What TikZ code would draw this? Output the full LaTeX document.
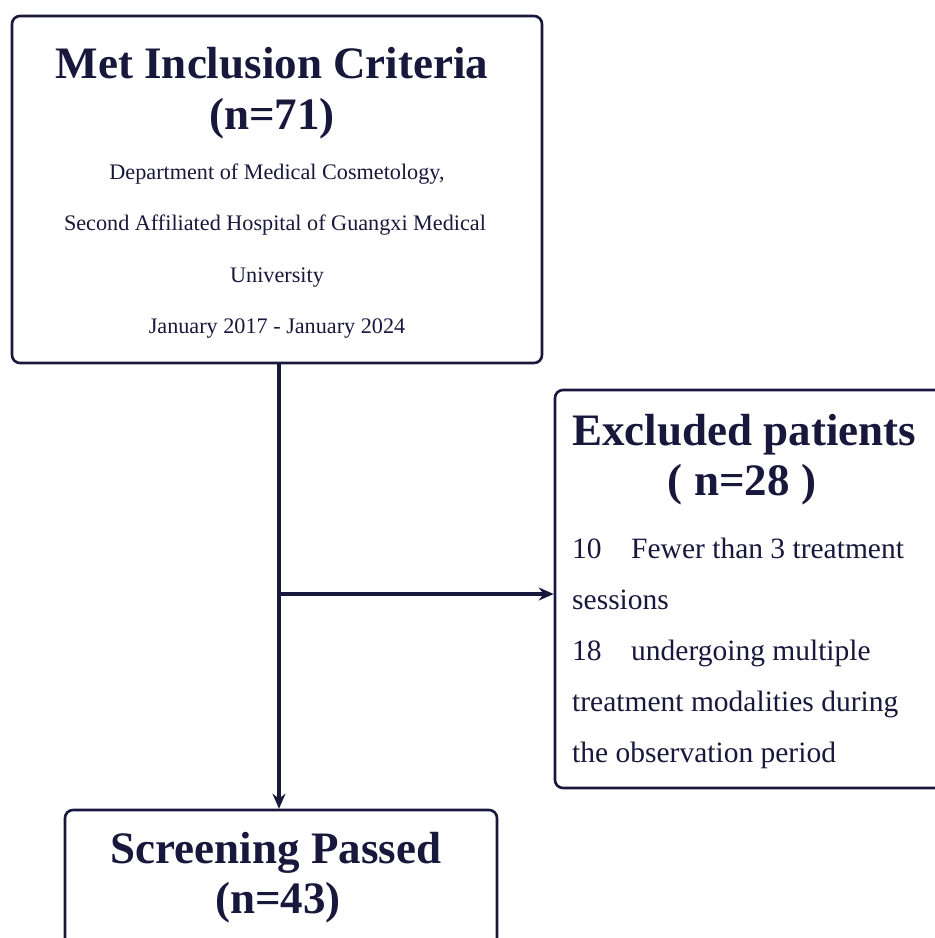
\documentclass[tikz,border=0pt]{standalone}
\usepackage{fontspec}
\setmainfont{Liberation Serif}
\usetikzlibrary{arrows.meta}
\definecolor{navy}{RGB}{24,24,60}
\begin{document}
\begin{tikzpicture}[x=1pt,y=-1pt,
  box/.style={draw=navy, line width=2.6pt, rounded corners=8pt, inner sep=0pt},
  title/.style={font=\fontsize{45}{50}\selectfont\bfseries, text=navy, anchor=base, inner sep=0pt},
  small/.style={font=\fontsize{22.2}{26}\selectfont, text=navy, anchor=base, inner sep=0pt},
  mid/.style={font=\fontsize{29.5}{34}\selectfont, text=navy, anchor=base west, inner sep=0pt},
  conn/.style={draw=navy, line width=3.2pt},
  tip/.style={-{Stealth[length=15pt,width=13pt]}}]
\useasboundingbox (0,0) rectangle (935,938);
\clip (0,0) rectangle (935,938);
\fill[white] (0,0) rectangle (935,938);
% boxes
\node[box, minimum width=530pt, minimum height=347pt] (top) at (277,189.5) {};
\node[box, minimum width=400pt, minimum height=398pt] (excl) at (755,589) {};
\node[box, minimum width=432pt, minimum height=160pt] (pass) at (281,890) {};
% connectors
\coordinate (branch) at (279,594);
\draw[conn,tip] (top.south -| branch) -- (pass.north -| branch);
\draw[conn,tip] (branch) -- (excl.west |- branch);
% top box text
\node[title] (t1) at (272,78) {Met Inclusion Criteria};
\node[title] (t2) at (272,129) {(n=71)};
\node[small] (s1) at (277,179) {Department of Medical Cosmetology,};
\node[small] (s2) at (275,230) {Second Affiliated Hospital of Guangxi Medical};
\node[small] (s3) at (277,282) {University};
\node[small] (s4) at (277,333) {January 2017 - January 2024};
% excluded box text
\node[title, anchor=base west] (e1) at (572,445) {Excluded patients};
\node[title] (e2) at (742,495) {(\hspace{0.25em}n=28\hspace{0.25em})};
\node[mid] (m1) at (572,558) {10\hspace{1em}Fewer than 3 treatment};
\node[mid] (m2) at (572,609) {sessions};
\node[mid] (m3) at (572,660) {18\hspace{1em}undergoing multiple};
\node[mid] (m4) at (572,711) {treatment modalities during};
\node[mid] (m5) at (572,762) {the observation period};
% passed box text
\node[title] (p1) at (276,863) {Screening Passed};
\node[title] (p2) at (278,913) {(n=43)};
\end{tikzpicture}
\end{document}
